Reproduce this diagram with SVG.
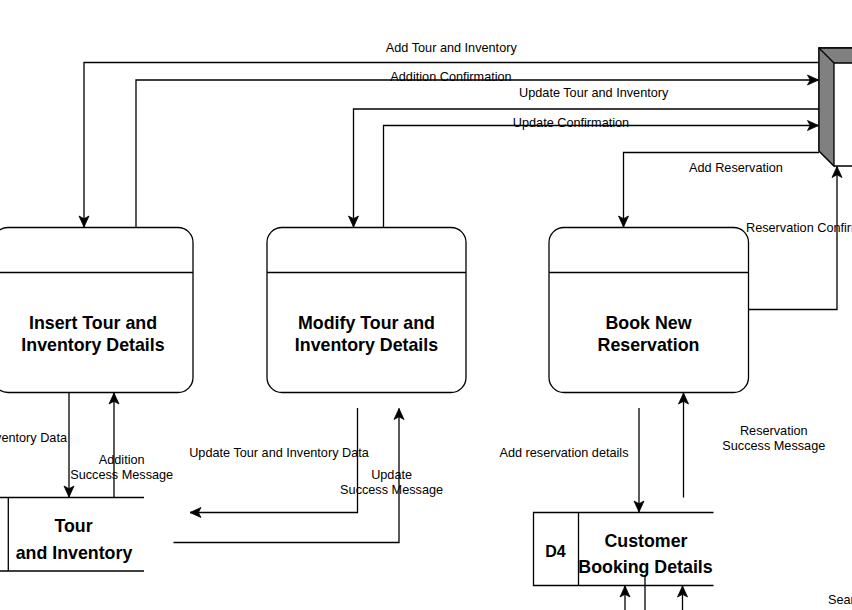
<svg xmlns="http://www.w3.org/2000/svg" width="852" height="610" viewBox="0 0 852 610">
<style>
.box{fill:#fff;stroke:#000;stroke-width:1.3}
.ln{fill:none;stroke:#000;stroke-width:1.3}
.edge{fill:none;stroke:#000;stroke-width:1.3}
.arr{marker-end:url(#arrow)}
.t{font-family:"Liberation Sans",Arial,Helvetica,sans-serif;font-size:12.7px;fill:#000}
.c{text-anchor:middle}
.b{font-family:"Liberation Sans",Arial,Helvetica,sans-serif;font-size:17.8px;font-weight:bold;fill:#000;text-anchor:middle}
</style>
<defs>
<marker id="arrow" viewBox="-12 -6 13 12" refX="0" refY="0" markerWidth="13" markerHeight="12" markerUnits="userSpaceOnUse" orient="auto">
<path d="M0,0 L-11,-5 L-8.3,0 L-11,5 Z" fill="#000" stroke="#000" stroke-width="0.8" stroke-linejoin="miter"/>
</marker>
</defs>
<rect width="852" height="610" fill="#fff"/>

<g id="entity">
<path d="M819,48 L870,48 L870,166 L834,166 L819,151 Z" fill="#fff" stroke="#000" stroke-width="1.3"/>
<path d="M819,48 L870,48 L870,63 L834,63 L834,166 L819,151 Z" fill="#808080" stroke="#000" stroke-width="1.3" stroke-linejoin="miter"/>
<path d="M819,48 L834,63" class="ln"/>
</g>

<g id="insert">
<rect x="-7" y="227.5" width="200" height="165" rx="15" ry="15" class="box"/>
<line x1="-7" y1="272.5" x2="193" y2="272.5" class="ln"/>
<text class="b" x="93" y="328.5">Insert Tour and</text>
<text class="b" x="93" y="350.5">Inventory Details</text>
</g>

<g id="modify">
<rect x="267" y="227.5" width="199" height="165" rx="15" ry="15" class="box"/>
<line x1="267" y1="272.5" x2="466" y2="272.5" class="ln"/>
<text class="b" x="366.5" y="328.5">Modify Tour and</text>
<text class="b" x="366.5" y="350.5">Inventory Details</text>
</g>

<g id="book">
<rect x="549" y="227.5" width="199.5" height="165" rx="15" ry="15" class="box"/>
<line x1="549" y1="272.5" x2="748.5" y2="272.5" class="ln"/>
<text class="b" x="648.5" y="328.5">Book New</text>
<text class="b" x="648.5" y="350.5">Reservation</text>
</g>

<g id="store-tour">
<path d="M-10,497.5 H144 M-10,571 H144 M8.3,497.5 V571" class="ln"/>
<text class="b" x="73.5" y="532">Tour</text>
<text class="b" x="74" y="559">and Inventory</text>
</g>

<g id="store-d4">
<path d="M713.5,512.5 H533.5 V585.5 H713.5 M578.5,512.5 V585.5" class="ln"/>
<text class="b" x="555.5" y="557" style="font-size:16px">D4</text>
<text class="b" x="646" y="546.5">Customer</text>
<text class="b" x="645.5" y="572.5">Booking Details</text>
</g>

<g id="connectors">
<path d="M819,62.5 H84 V227" class="edge arr"/>
<path d="M136,227.5 V80 H818.5" class="edge arr"/>
<path d="M819,109 H353.5 V227" class="edge arr"/>
<path d="M383.5,227.5 V125.5 H818.5" class="edge arr"/>
<path d="M819,152.5 H623.5 V227" class="edge arr"/>
<path d="M748.5,309.5 H837 V166.5" class="edge arr"/>
<path d="M69,392.5 V497" class="edge arr"/>
<path d="M114,497.5 V393" class="edge arr"/>
<path d="M357.5,408 V512.5 H190" class="edge arr"/>
<path d="M173.5,542.5 H399 V408.5" class="edge arr"/>
<path d="M639,408 V512" class="edge arr"/>
<path d="M683.5,497.5 V393" class="edge arr"/>
<path d="M625,612 V586" class="edge arr"/>
<path d="M645,575 V612" class="edge"/>
<path d="M682.5,612 V586" class="edge arr"/>
</g>

<g id="labels">
<text class="t c" x="451.3" y="52">Add Tour and Inventory</text>
<text class="t c" x="451" y="81">Addition Confirmation</text>
<text class="t c" x="593.7" y="96.5">Update Tour and Inventory</text>
<text class="t c" x="571" y="126.5">Update Confirmation</text>
<text class="t c" x="736" y="171.5">Add Reservation</text>
<text class="t" x="746" y="231.5">Reservation Confirmation</text>
<text class="t" x="67" y="442" text-anchor="end">Inventory Data</text>
<text class="t c" x="121.7" y="464">Addition</text>
<text class="t c" x="121.7" y="479">Success Message</text>
<text class="t c" x="279" y="457">Update Tour and Inventory Data</text>
<text class="t c" x="391.6" y="478.6">Update</text>
<text class="t c" x="391.6" y="493.6">Success Message</text>
<text class="t c" x="564" y="457">Add reservation details</text>
<text class="t c" x="773.8" y="434.6">Reservation</text>
<text class="t c" x="773.8" y="449.6">Success Message</text>
<text class="t" x="828" y="604">Sear</text>
</g>
</svg>
